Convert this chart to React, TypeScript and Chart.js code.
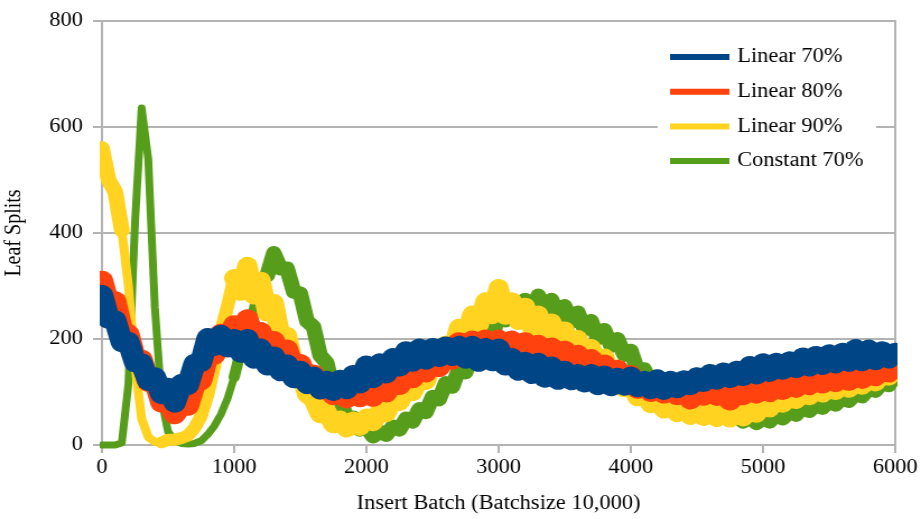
import React, { useEffect, useRef } from "react";
import { Chart, registerables } from "chart.js";

Chart.register(...registerables);

// Canvas is drawn at a narrower backing width and shown at 921px,
// which gives the wide serif lettering of the original export.
const CANVAS_W = 822;
const CANVAS_H = 519;
const VIEW_W = 921;

const FONT_FAMILY = '"Liberation Serif", "Times New Roman", serif';
const GRID = "#b3b3b3";

// One sample every 50 insert batches (0 .. 6000).
const BATCH_STEP = 50;

const linear70 = [
  283, 238, 235, 194, 195, 156, 154, 121, 128, 96,
  108, 80, 115, 113, 153, 157, 202, 187, 208, 184,
  200, 174, 200, 163, 182, 150, 167, 139, 152, 126,
  140, 115, 129, 105, 121, 102, 123, 105, 132, 116,
  150, 126, 154, 135, 164, 148, 177, 157, 182, 161,
  183, 166, 186, 168, 187, 163, 187, 157, 183, 158,
  182, 150, 164, 140, 157, 134, 155, 127, 148, 123,
  140, 122, 134, 118, 134, 113, 131, 111, 127, 112,
  129, 109, 121, 105, 124, 104, 121, 107, 122, 113,
  128, 119, 134, 123, 137, 126, 140, 130, 149, 133,
  154, 138, 155, 142, 158, 145, 165, 148, 168, 151,
  171, 154, 174, 157, 181, 158, 180, 160, 177, 163,
  174,
];

const linear80 = [
  310, 267, 271, 218, 209, 163, 161, 119, 121, 80,
  82, 58, 76, 74, 115, 122, 170, 170, 210, 197,
  226, 206, 237, 199, 213, 182, 196, 165, 180, 144,
  153, 121, 133, 105, 121, 94, 111, 88, 109, 90,
  111, 91, 112, 99, 126, 113, 140, 126, 152, 137,
  165, 147, 178, 161, 194, 169, 197, 171, 199, 171,
  199, 171, 197, 169, 194, 167, 189, 162, 184, 157,
  178, 150, 170, 142, 162, 133, 152, 124, 142, 116,
  132, 106, 120, 100, 114, 97, 109, 94, 108, 86,
  104, 93, 102, 93, 100, 84, 101, 94, 104, 97,
  106, 100, 110, 104, 114, 108, 119, 113, 123, 116,
  126, 119, 128, 121, 131, 125, 135, 130, 141, 137,
  150,
];

const linear90 = [
  560, 500, 478, 405, 300, 150, 50, 15, 6, 5,
  10, 10, 13, 18, 32, 55, 95, 150, 215, 262,
  315, 289, 338, 282, 310, 250, 268, 205, 206, 149,
  140, 96, 86, 58, 62, 39, 48, 31, 46, 34,
  52, 43, 63, 60, 85, 81, 105, 100, 127, 121,
  157, 147, 189, 175, 221, 202, 246, 227, 271, 245,
  296, 244, 271, 234, 261, 222, 246, 206, 231, 191,
  216, 177, 200, 161, 183, 144, 165, 126, 144, 107,
  122, 90, 103, 77, 91, 67, 83, 60, 77, 55,
  72, 53, 70, 51, 68, 50, 68, 52, 72, 59,
  79, 69, 86, 78, 94, 85, 101, 92, 106, 97,
  112, 102, 116, 106, 121, 112, 126, 118, 134, 129,
  144,
];

const constant70 = [
  0, 0, 0, 4, 115, 420, 636, 540, 260, 85,
  25, 8, 3, 2, 3, 8, 20, 36, 58, 88,
  128, 178, 233, 254, 310, 320, 362, 333, 333, 289,
  286, 234, 223, 169, 155, 100, 89, 50, 52, 29,
  34, 16, 25, 19, 35, 29, 50, 44, 68, 62,
  91, 86, 117, 110, 143, 137, 174, 168, 210, 203,
  245, 235, 263, 247, 274, 254, 282, 255, 274, 244,
  262, 232, 250, 218, 234, 201, 217, 187, 200, 170,
  178, 141, 143, 118, 121, 100, 100, 82, 85, 69,
  73, 59, 65, 52, 60, 47, 55, 44, 53, 41,
  51, 44, 57, 50, 63, 57, 71, 64, 77, 70,
  83, 76, 90, 83, 97, 92, 107, 102, 117, 113,
  130,
];

const seriesNames = ["Linear 70%", "Linear 80%", "Linear 90%", "Constant 70%"];
const seriesColors = ["#004586", "#ff420e", "#ffd320", "#579d1c"];
const seriesValues = [linear70, linear80, linear90, constant70];

const batches = linear70.map((_, i) => i * BATCH_STEP);

// Stroke widths per batch range [from, to, width]: the noisy runs are drawn
// as broad bands, the sharp transitions as thin strokes.
const strokeSpans: number[][][] = [
  [[0, 6000, 20]],
  [[0, 6000, 20]],
  [[0, 150, 14], [150, 450, 8], [450, 1000, 12], [1000, 6000, 18]],
  [[0, 1000, 7], [1000, 1200, 10], [1200, 6000, 14]],
];

function strokeWidthAt(series: number, x: number): number {
  const spans = strokeSpans[series];
  for (const [from, to, w] of spans) {
    if (x >= from && x < to) return w;
  }
  return spans[spans.length - 1][2];
}

// Legend box drawn inside the plot, top right, on a white panel.
const insideLegend = {
  id: "insideLegend",
  afterDatasetsDraw(chart: any) {
    const { ctx, chartArea } = chart;
    const boxW = 195;
    const boxH = 145;
    const x0 = chartArea.right - 17 - boxW;
    const y0 = chartArea.top + 16;
    ctx.save();
    ctx.fillStyle = "#ffffff";
    ctx.fillRect(x0, y0, boxW, boxH);
    chart.data.datasets.forEach((ds: any, i: number) => {
      const y = y0 + 20 + i * 34.7;
      ctx.strokeStyle = ds.borderColor;
      ctx.lineWidth = 6;
      ctx.lineCap = "butt";
      ctx.beginPath();
      ctx.moveTo(x0 + 11, y);
      ctx.lineTo(x0 + 64, y);
      ctx.stroke();
      ctx.fillStyle = "#000000";
      ctx.font = `20px ${FONT_FAMILY}`;
      ctx.textBaseline = "middle";
      ctx.textAlign = "left";
      ctx.fillText(ds.label, x0 + 71, y);
    });
    ctx.restore();
  },
};

export default function App() {
  const canvasRef = useRef<HTMLCanvasElement | null>(null);

  useEffect(() => {
    const canvas = canvasRef.current;
    if (!canvas) return;

    const datasets = seriesNames.map((name, s) => ({
      label: name,
      data: seriesValues[s].map((v, i) => ({ x: batches[i], y: v })),
      borderColor: seriesColors[s],
      backgroundColor: seriesColors[s],
      borderWidth: Math.max(...strokeSpans[s].map((sp) => sp[2])),
      borderCapStyle: "round" as const,
      borderJoinStyle: "round" as const,
      segment: {
        borderWidth: (ctx: any) => strokeWidthAt(s, ctx.p0.parsed.x),
      },
      pointRadius: 0,
      tension: 0,
      fill: false,
      clip: { left: 2, top: 12, right: 2, bottom: 4 },
      xAxisID: "x",
      yAxisID: "y",
    }));

    const tickFont = { family: FONT_FAMILY, size: 20 };

    const chart = new Chart(canvas, {
      type: "line",
      data: { datasets },
      plugins: [insideLegend],
      options: {
        animation: false,
        responsive: false,
        devicePixelRatio: 1,
        layout: { padding: { left: 0, right: 21, top: 14, bottom: 0 } },
        plugins: {
          legend: { display: false },
          tooltip: { enabled: false },
        },
        scales: {
          x: {
            type: "linear",
            min: 0,
            max: 6000,
            ticks: {
              stepSize: 1000,
              color: "#000000",
              font: tickFont,
              padding: 3,
              maxRotation: 0,
              autoSkip: false,
              callback: (v: any) => String(v),
            },
            grid: {
              drawOnChartArea: false,
              drawTicks: true,
              tickLength: 8,
              color: GRID,
              lineWidth: 2,
            },
            border: { display: true, color: GRID, width: 2 },
            title: {
              display: true,
              text: "Insert Batch (Batchsize 10,000)",
              color: "#000000",
              font: tickFont,
              padding: { top: 0, bottom: 3 },
            },
            afterFit: (scale: any) => {
              scale.height = 74;
            },
          },
          y: {
            type: "linear",
            position: "left",
            min: 0,
            max: 800,
            ticks: {
              stepSize: 200,
              color: "#000000",
              font: tickFont,
              padding: 9,
            },
            grid: { color: GRID, lineWidth: 2, tickLength: 8 },
            border: { display: true, color: GRID, width: 2 },
            title: {
              display: true,
              text: "Leaf Splits",
              color: "#000000",
              font: tickFont,
              padding: { top: 1, bottom: 0 },
            },
            afterFit: (scale: any) => {
              scale.width = 91;
            },
          },
          frame: {
            type: "linear",
            position: "right",
            min: 0,
            max: 800,
            ticks: { display: false },
            grid: { drawOnChartArea: false, drawTicks: false },
            border: { display: true, color: GRID, width: 2 },
            afterFit: (scale: any) => {
              scale.width = 0;
            },
          },
        },
      } as any,
    });

    return () => chart.destroy();
  }, []);

  return (
    <div
      style={{
        position: "absolute",
        left: 0,
        top: 0,
        width: VIEW_W,
        height: CANVAS_H,
        background: "#ffffff",
      }}
    >
      <canvas
        ref={canvasRef}
        width={CANVAS_W}
        height={CANVAS_H}
        style={{ display: "block", width: `${VIEW_W}px`, height: `${CANVAS_H}px` }}
      />
    </div>
  );
}
